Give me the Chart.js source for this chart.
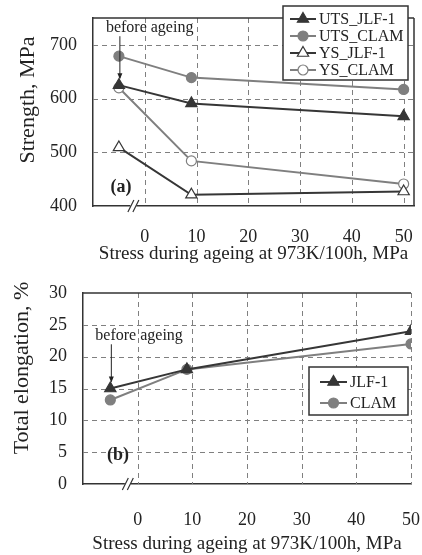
<!DOCTYPE html>
<html>
<head>
<meta charset="utf-8">
<script src="https://cdn.jsdelivr.net/npm/chart.js@4.4.0/dist/chart.umd.min.js"></script>
<style>
html, body { margin: 0; padding: 0; background: #fff; }
#wrapA { position: absolute; left: 0; top: 0; width: 422px; height: 270px; }
#wrapB { position: absolute; left: 0; top: 270px; width: 422px; height: 285px; }
</style>
</head>
<body>
<div id="wrapA"><canvas id="chartA"></canvas></div>
<div id="wrapB"><canvas id="chartB"></canvas></div>
<script>
// stress during ageing (MPa); the first point is the "before ageing" sample
const stressX = [-5, 9, 50]

const utsJLF = [625, 591, 567]
const utsCLAM = [679, 639, 617]
const ysJLF = [509, 421, 427]
const ysCLAM = [620, 484, 441]

const elongJLF = [15, 18, 24]
const elongCLAM = [13.2, 18, 22]

const xTickLabels = [0, 10, 20, 30, 40, 50]
const strengthTicks = [400, 500, 600, 700]
const elongTicks = [0, 5, 10, 15, 20, 25, 30]

const DARK = "#363636"
const GREY = "#7f7f7f"
const NONE = "rgba(0,0,0,0)"
const SERIF = "'Liberation Serif', 'Times New Roman', serif"

Chart.defaults.font.family = SERIF
Chart.defaults.color = "#222"


function toPoints(ys) {
    return stressX.map((x, i) => ({ x: x, y: ys[i] }))
}

function series(label, ys, color, style, fill) {
    return {
        label: label,
        data: toPoints(ys),
        showLine: true,
        borderColor: color,
        borderWidth: 2,
        pointStyle: style,
        pointRadius: style == "triangle" ? 6.5 : 5,
        pointBackgroundColor: fill,
        pointBorderColor: color,
        pointBorderWidth: 1.2
    }
}


function drawMarker(ctx, style, x, y, r, fill, stroke) {
    ctx.beginPath()
    if (style == "triangle") {
        ctx.moveTo(x, y - r)
        ctx.lineTo(x + r * 0.866, y + r * 0.5)
        ctx.lineTo(x - r * 0.866, y + r * 0.5)
        ctx.closePath()
    } else {
        ctx.arc(x, y, r, 0, Math.PI * 2)
    }
    ctx.fillStyle = fill
    ctx.fill()
    ctx.lineWidth = 1.2
    ctx.strokeStyle = stroke
    ctx.stroke()
}


// dashed grid, frame, axis break, annotations, y title and boxed legend
const decorations = {
    id: "decorations",
    beforeDatasetsDraw(chart, args, opts) {
        const { ctx, chartArea: a, scales } = chart
        ctx.save()
        ctx.strokeStyle = "#808080"
        ctx.lineWidth = 1
        ctx.setLineDash([5, 4])
        ctx.beginPath()
        opts.xGrid.forEach(v => {
            const x = Math.round(scales.x.getPixelForValue(v)) + 0.5
            ctx.moveTo(x, a.top)
            ctx.lineTo(x, a.bottom)
        })
        opts.yGrid.forEach(v => {
            const y = Math.round(scales.y.getPixelForValue(v)) + 0.5
            ctx.moveTo(a.left, y)
            ctx.lineTo(a.right, y)
        })
        ctx.stroke()
        ctx.restore()
    },
    afterDraw(chart, args, opts) {
        const { ctx, chartArea: a, scales } = chart
        ctx.save()

        // top (and right) frame
        ctx.strokeStyle = "#333"
        ctx.lineWidth = 1.5
        ctx.setLineDash([])
        ctx.beginPath()
        ctx.moveTo(a.left, a.top)
        ctx.lineTo(a.right, a.top)
        if (opts.rightSolid) {
            ctx.moveTo(a.right, a.top)
            ctx.lineTo(a.right, a.bottom)
        }
        ctx.stroke()

        // "//" break on the x axis
        const bx = scales.x.getPixelForValue(opts.breakAt)
        ctx.fillStyle = "#fff"
        ctx.fillRect(bx - 3, a.bottom - 2, 6, 4)
        ctx.lineWidth = 1.2
        ctx.beginPath()
        for (const off of [-2.5, 2.5]) {
            ctx.moveTo(bx + off - 3, a.bottom + 6)
            ctx.lineTo(bx + off + 3, a.bottom - 6)
        }
        ctx.stroke()

        // y axis title
        ctx.save()
        ctx.translate(opts.yTitleAt[0], opts.yTitleAt[1])
        ctx.rotate(-Math.PI / 2)
        ctx.fillStyle = "#222"
        ctx.font = "22px " + SERIF
        ctx.textAlign = "center"
        ctx.textBaseline = "middle"
        ctx.fillText(opts.yTitle, 0, 0)
        ctx.restore()

        // panel tag
        ctx.fillStyle = "#222"
        ctx.font = "bold 18px " + SERIF
        ctx.textAlign = "center"
        ctx.textBaseline = "middle"
        ctx.fillText(opts.tag, scales.x.getPixelForValue(opts.tagAt[0]), scales.y.getPixelForValue(opts.tagAt[1]))

        // "before ageing" note with arrow
        const meta = chart.getDatasetMeta(0)
        const px = meta.data[0].x + 1
        const py = meta.data[0].y
        const ty = scales.y.getPixelForValue(opts.noteY)
        ctx.font = "16px " + SERIF
        ctx.textAlign = "left"
        ctx.fillText("before ageing", px - opts.noteShift, ty)
        ctx.lineWidth = 1
        ctx.strokeStyle = "#222"
        ctx.beginPath()
        ctx.moveTo(px, ty + 8)
        ctx.lineTo(px, py - 7)
        ctx.stroke()
        ctx.beginPath()
        ctx.moveTo(px, py - 6)
        ctx.lineTo(px - 2.5, py - 12)
        ctx.lineTo(px + 2.5, py - 12)
        ctx.closePath()
        ctx.fillStyle = "#222"
        ctx.fill()

        // legend
        const L = opts.box
        ctx.fillStyle = "#fff"
        ctx.fillRect(L.left, L.top, L.right - L.left, L.bottom - L.top)
        ctx.strokeStyle = "#333"
        ctx.lineWidth = 1.5
        ctx.strokeRect(L.left, L.top, L.right - L.left, L.bottom - L.top)
        ctx.font = "16px " + SERIF
        ctx.textAlign = "left"
        ctx.textBaseline = "middle"
        chart.data.datasets.forEach((ds, i) => {
            const y = L.rows[i]
            ctx.strokeStyle = ds.borderColor
            ctx.lineWidth = 2
            ctx.beginPath()
            ctx.moveTo(L.lineFrom, y)
            ctx.lineTo(L.lineTo, y)
            ctx.stroke()
            drawMarker(ctx, ds.pointStyle, (L.lineFrom + L.lineTo) / 2, y,
                ds.pointStyle == "triangle" ? 6.5 : 5, ds.pointBackgroundColor, ds.pointBorderColor)
            ctx.fillStyle = "#222"
            ctx.fillText(ds.label, L.textX, y + 1)
        })

        ctx.restore()
    }
}


// tick gaps come from invisible tick marks so they don't inflate the layout padding
function xScale(max, height, gap, titlePad) {
    return {
        type: "linear",
        min: -10,
        max: max,
        afterFit: s => { s.height = height },
        ticks: {
            stepSize: 10,
            includeBounds: false,
            padding: 0,
            font: { size: 18 },
            callback: v => xTickLabels.includes(v) ? v : ""
        },
        grid: { color: NONE, tickColor: NONE, drawTicks: true, tickLength: gap },
        border: { color: "#333", width: 1.5 },
        title: {
            display: true,
            text: "Stress during ageing at 973K/100h, MPa",
            font: { size: 19 },
            padding: { top: 0, bottom: titlePad }
        }
    }
}

function yScale(ticks, max, width) {
    return {
        min: ticks[0],
        max: max,
        afterFit: s => { s.width = width },
        ticks: {
            stepSize: ticks[1] - ticks[0],
            includeBounds: false,
            padding: 0,
            font: { size: 18 },
            callback: v => ticks.includes(v) ? v : ""
        },
        grid: { color: NONE, tickColor: NONE, drawTicks: true, tickLength: 16 },
        border: { color: "#333", width: 1.5 }
    }
}


new Chart(document.getElementById("chartA"), {
    type: "scatter",
    data: {
        datasets: [
            series("UTS_JLF-1", utsJLF, DARK, "triangle", DARK),
            series("UTS_CLAM", utsCLAM, GREY, "circle", GREY),
            series("YS_JLF-1", ysJLF, DARK, "triangle", "#fff"),
            series("YS_CLAM", ysCLAM, GREY, "circle", "#fff")
        ]
    },
    options: {
        responsive: true,
        maintainAspectRatio: false,
        animation: false,
        layout: { padding: { top: 18, right: 8, left: 0, bottom: 0 } },
        plugins: {
            legend: { display: false },
            tooltip: { enabled: false },
            decorations: {
                xGrid: xTickLabels,
                yGrid: strengthTicks.slice(1),
                rightSolid: true,
                breakAt: -2.2,
                tag: "(a)",
                tagAt: [-4.6, 435],
                noteY: 731,
                noteShift: 14,
                yTitle: "Strength, MPa",
                yTitleAt: [28, 100],
                box: { left: 283, right: 408, top: 6, bottom: 80, rows: [19, 36, 53, 70], lineFrom: 290, lineTo: 316, textX: 319 }
            }
        },
        scales: {
            x: xScale(52, 64, 20, 5),
            y: yScale(strengthTicks, 750, 93)
        }
    },
    plugins: [decorations]
})


new Chart(document.getElementById("chartB"), {
    type: "scatter",
    data: {
        datasets: [
            series("JLF-1", elongJLF, DARK, "triangle", DARK),
            series("CLAM", elongCLAM, GREY, "circle", GREY)
        ]
    },
    options: {
        responsive: true,
        maintainAspectRatio: false,
        animation: false,
        layout: { padding: { top: 23, right: 11, left: 0, bottom: 0 } },
        plugins: {
            legend: { display: false },
            tooltip: { enabled: false },
            decorations: {
                xGrid: xTickLabels,
                yGrid: elongTicks.slice(1, -1),
                rightSolid: false,
                breakAt: -1.8,
                tag: "(b)",
                tagAt: [-3.6, 4.5],
                noteY: 23.2,
                noteShift: 16,
                yTitle: "Total elongation, %",
                yTitleAt: [22, 98],
                box: { left: 309, right: 408, top: 97, bottom: 145, rows: [112, 133], lineFrom: 320, lineTo: 347, textX: 350 }
            }
        },
        scales: {
            x: xScale(50, 71, 25, 0),
            y: yScale(elongTicks, 30, 83)
        }
    },
    plugins: [decorations]
})
</script>
</body>
</html>
